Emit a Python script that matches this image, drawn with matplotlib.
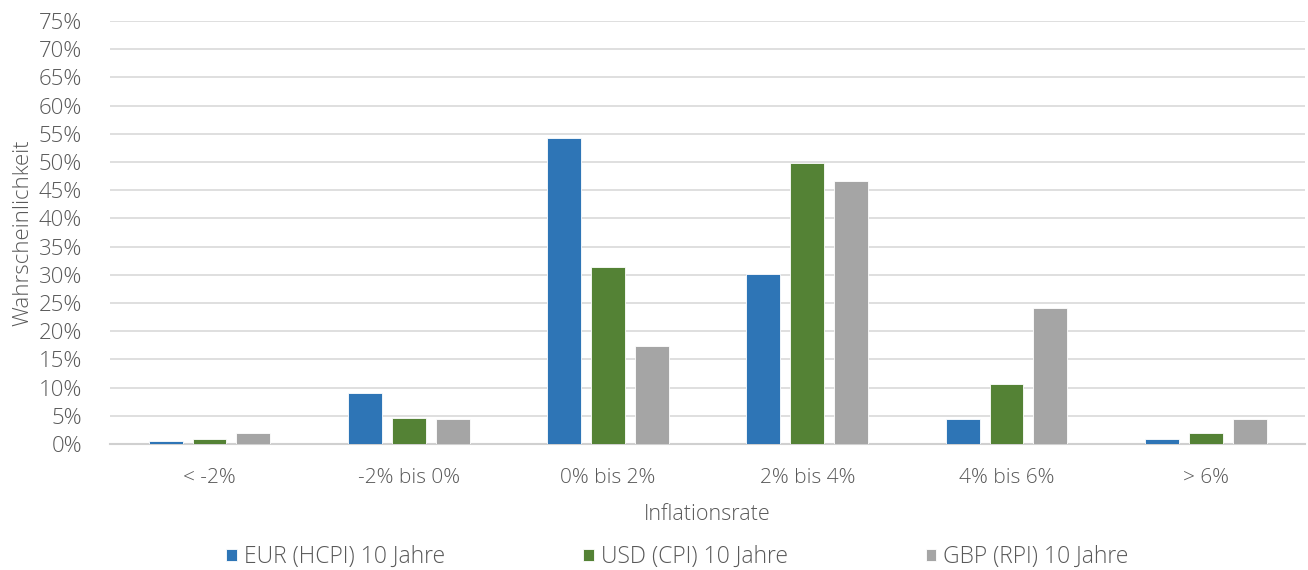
import matplotlib.pyplot as plt
import numpy as np

plt.rcParams['font.family'] = ['Open Sans', 'DejaVu Sans']
plt.rcParams['font.weight'] = 'light'
plt.rcParams['axes.labelweight'] = 'light'

kategorien = ["< -2%", "-2% bis 0%", "0% bis 2%", "2% bis 4%", "4% bis 6%", "> 6%"]
eur = [0.5, 9.1, 54.3, 30.2, 4.4, 0.9]
usd = [0.9, 4.7, 31.4, 49.8, 10.7, 1.9]
gbp = [1.9, 4.4, 17.3, 46.7, 24.1, 4.4]
serien = ["EUR (HCPI) 10 Jahre", "USD (CPI) 10 Jahre", "GBP (RPI) 10 Jahre"]
farben = ["#2e75b6", "#548235", "#a5a5a5"]

grau = "#595959"

fig = plt.figure(figsize=(13.08, 5.70), dpi=100)
ax = fig.add_axes([0.084, 0.221, 0.914, 0.742])

x = np.arange(len(kategorien))
breite = 0.17
abstand = 0.22
for i, (werte, name, farbe) in enumerate(zip([eur, usd, gbp], serien, farben)):
    ax.bar(x + (i - 1) * abstand, werte, breite, color=farbe, label=name,
           edgecolor="white", linewidth=0.6, zorder=3)

ax.set_xlim(-0.5, 5.5)
ax.set_ylim(0, 75)
ax.set_yticks(np.arange(0, 76, 5))
ax.set_yticklabels([f"{v}%" for v in range(0, 76, 5)], fontsize=16, color=grau)
ax.set_xticks(x)
ax.set_xticklabels(kategorien, fontsize=15, color=grau)
ax.tick_params(axis="both", length=0)
ax.tick_params(axis="y", pad=20)
ax.tick_params(axis="x", pad=17)

ax.grid(axis="y", color="#d9d9d9", linewidth=1.2, zorder=0)
for s in ["top", "right", "left"]:
    ax.spines[s].set_visible(False)
ax.spines["bottom"].set_color("#d0d0d0")
ax.spines["bottom"].set_linewidth(1.5)

ax.set_ylabel("Wahrscheinlichkeit", fontsize=16, color=grau)
ax.yaxis.set_label_coords(-0.064, 0.5)
ax.set_xlabel("Inflationsrate", fontsize=15.5, color=grau, labelpad=12)

fig.legend(loc="center", bbox_to_anchor=(0.518, 0.023), ncol=3, frameon=False,
           fontsize=16.5, labelcolor=grau, handlelength=0.45, handleheight=0.45,
           handletextpad=0.3, columnspacing=6.05)

fig.savefig("out.png", dpi=100)
